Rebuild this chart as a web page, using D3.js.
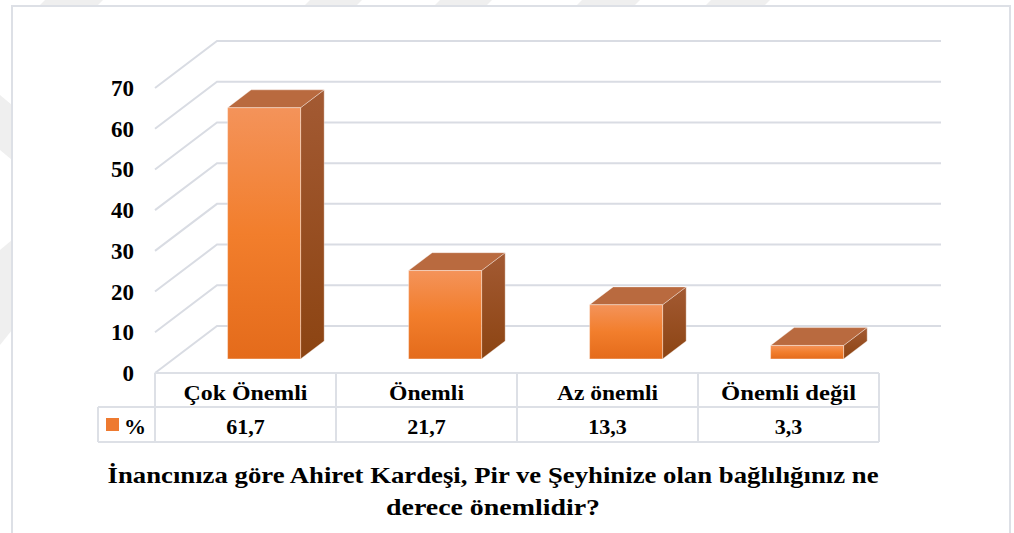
<!DOCTYPE html>
<html>
<head>
<meta charset="utf-8">
<script src="https://cdn.jsdelivr.net/npm/d3@7"></script>
</head>
<body style="margin:0">
<script>
let categories = ["Çok Önemli", "Önemli", "Az önemli", "Önemli değil"];
let values = [61.7, 21.7, 13.3, 3.3];
let valueLabels = ["61,7", "21,7", "13,3", "3,3"];
let yTicks = [0, 10, 20, 30, 40, 50, 60, 70];
let seriesName = "%";
let titleLines = ["İnancınıza göre Ahiret Kardeşi, Pir ve Şeyhinize olan bağlılığınız ne", "derece önemlidir?"];
// widths of the labels as they appear in the picture
let categoryWidths = [124, 75, 101, 135];
let titleWidths = [771, 214];

const width = 1014, height = 533;
// depth of the 3d box in pixels
const depthX = 62, depthY = -47;

let svg = d3.select("body")
  .append("svg")
  .attr("width", width)
  .attr("height", height);

// every text gets its own font settings
function label(sel, size) {
  return sel.attr("font-family", "'Times New Roman', 'Liberation Serif', serif")
    .attr("font-weight", "bold")
    .attr("font-size", size)
    .attr("fill", "#000");
}

// faint watermark bands behind the frame
let wm = svg.append("g").attr("fill", "#efefef");
[[45, 103], [310, 362], [440, 492], [582, 640], [711, 770]].forEach(b => {
  wm.append("path").attr("d", `M${b[0]},0 L${b[1]},0 L${b[1] - 8},8 L${b[0] - 8},8 Z`);
});
wm.append("path").attr("d", "M0,95 L12,105 L12,160 L0,150 Z");
wm.append("path").attr("d", "M0,250 L12,240 L12,330 L0,345 Z");

// frame
svg.append("rect")
  .attr("x", 12).attr("y", 6)
  .attr("width", 998).attr("height", 540)
  .attr("fill", "#fff")
  .attr("stroke", "#dde0e6")
  .attr("stroke-width", 2);

let x = d3.scaleBand()
  .domain(categories)
  .range([155, 879]);

let y = d3.scaleLinear()
  .domain([0, 70])
  .range([373, 88]);

// project (px, value, depth 0..1) to screen
function proj(px, v, d) {
  return [px + depthX * d, y(v) + depthY * d];
}

// gridlines: left wall diagonal + back wall
let grid = svg.append("g")
  .attr("fill", "none")
  .attr("stroke", "#d9dce3")
  .attr("stroke-width", 2);
yTicks.forEach(t => {
  let a = proj(155, t, 0), b = proj(155, t, 1), c = proj(879, t, 1);
  grid.append("path").attr("d", `M${a}L${b}L${c}`);
});

// y axis labels
label(svg.append("g")
  .selectAll("text")
  .data(yTicks)
  .join("text")
  .attr("x", 134)
  .attr("y", d => y(d) + 8)
  .attr("text-anchor", "end"), 23)
  .text(d => d);

// gradients
let defs = svg.append("defs");
let gFront = defs.append("linearGradient").attr("id", "front").attr("x1", 0).attr("y1", 0).attr("x2", 0).attr("y2", 1);
gFront.append("stop").attr("offset", 0).attr("stop-color", "#f4935a");
gFront.append("stop").attr("offset", 0.5).attr("stop-color", "#f27e2c");
gFront.append("stop").attr("offset", 1).attr("stop-color", "#e46b1b");
let gSide = defs.append("linearGradient").attr("id", "side").attr("x1", 0).attr("y1", 0).attr("x2", 0).attr("y2", 1);
gSide.append("stop").attr("offset", 0).attr("stop-color", "#a35a33");
gSide.append("stop").attr("offset", 1).attr("stop-color", "#8c4412");

// bars
const barW = 73, d0 = 0.3, d1 = 0.68;
let bars = svg.append("g");
categories.forEach((c, i) => {
  let cx = x(c) + x.bandwidth() / 2;
  let xl = cx - barW / 2, xr = cx + barW / 2;
  let v = values[i];
  let fbl = proj(xl, 0, d0), fbr = proj(xr, 0, d0), ftl = proj(xl, v, d0), ftr = proj(xr, v, d0);
  let bbr = proj(xr, 0, d1), btl = proj(xl, v, d1), btr = proj(xr, v, d1);
  let g = bars.append("g").attr("stroke", "rgba(255,255,255,0.35)").attr("stroke-width", 1);
  g.append("path").attr("fill", "url(#side)")
    .attr("d", `M${fbr}L${bbr}L${btr}L${ftr}Z`);
  g.append("path").attr("fill", "#b96a3f")
    .attr("d", `M${ftl}L${ftr}L${btr}L${btl}Z`);
  g.append("path").attr("fill", "url(#front)")
    .attr("d", `M${ftl}L${ftr}L${fbr}L${fbl}Z`);
});

// data table
let table = svg.append("g")
  .attr("fill", "none")
  .attr("stroke", "#dde0e6")
  .attr("stroke-width", 2);
table.append("path").attr("d", `M155,373 L879,373 M98,407 L879,407 M98,442 L879,442 M98,407 L98,442`);
categories.forEach(c => {
  table.append("path").attr("d", `M${x(c)},373 L${x(c)},442`);
});
table.append("path").attr("d", `M879,373 L879,442`);

label(svg.append("g")
  .selectAll("text")
  .data(categories)
  .join("text")
  .attr("x", d => x(d) + x.bandwidth() / 2)
  .attr("y", 400)
  .attr("text-anchor", "middle")
  .attr("textLength", (d, i) => categoryWidths[i])
  .attr("lengthAdjust", "spacingAndGlyphs"), 22)
  .text(d => d);

label(svg.append("g")
  .selectAll("text")
  .data(valueLabels)
  .join("text")
  .attr("x", (d, i) => x(categories[i]) + x.bandwidth() / 2)
  .attr("y", 434)
  .attr("text-anchor", "middle"), 22)
  .text(d => d);

// legend key
svg.append("rect")
  .attr("x", 106).attr("y", 418)
  .attr("width", 13).attr("height", 13)
  .attr("fill", "#ee7a30");
label(svg.append("text")
  .attr("x", 124).attr("y", 434), 22)
  .text(seriesName);

// title
label(svg.append("g")
  .selectAll("text")
  .data(titleLines)
  .join("text")
  .attr("x", 493)
  .attr("y", (d, i) => 483 + i * 32)
  .attr("text-anchor", "middle")
  .attr("textLength", (d, i) => titleWidths[i])
  .attr("lengthAdjust", "spacingAndGlyphs"), 23)
  .text(d => d);
</script>
</body>
</html>
